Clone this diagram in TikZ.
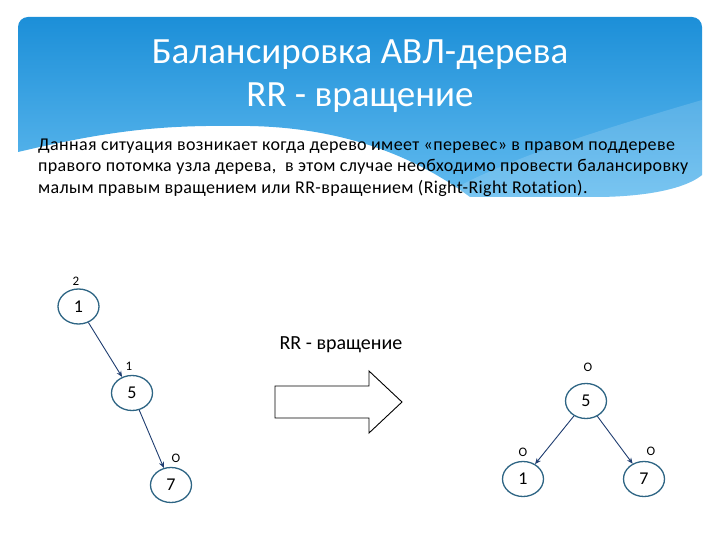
\documentclass[tikz,border=0pt]{standalone}
\usepackage{fontspec}
\setmainfont{Carlito}
\usetikzlibrary{shapes.geometric,arrows.meta}
\definecolor{topblue}{HTML}{1C8FD8}
\definecolor{lowblue}{HTML}{62BBEF}
\definecolor{ringc}{HTML}{2E6584}
\definecolor{edgec}{HTML}{1F3D70}
\tikzset{
  tnode/.style={ellipse, draw=ringc, line width=1.3pt, fill=white, minimum width=41pt, minimum height=35pt, inner sep=0pt, font=\fontsize{18}{18}\selectfont},
  blab/.style={font=\fontsize{13}{13}\selectfont, inner sep=0pt},
  tedge/.style={draw=edgec, line width=0.9pt, -{Stealth[length=6pt,width=5pt]}},
  bodyline/.style={anchor=west, inner sep=0pt, font=\fontsize{18}{18}\selectfont\addfontfeature{LetterSpace=2,Ligatures=NoCommon}}
}
\begin{document}
\begin{tikzpicture}[x=1pt,y=-1pt]
\useasboundingbox (0,0) rectangle (720,540);
% header background
\shade[top color=topblue, bottom color=lowblue]
  (18,152) [rounded corners=10] -- (18,17) -- (702,17) [sharp corners] -- (702,175)
  .. controls (690,185) and (660,196) .. (600,197)
  -- (470,197) .. controls (420,160) and (350,128) .. (250,126)
  .. controls (170,125) and (120,128) .. (18,152) -- cycle;
\fill[white, opacity=0.15] (702,100) .. controls (600,130) and (500,160) .. (440,197) -- (600,197) .. controls (660,196) and (690,185) .. (702,175) -- cycle;
% title
\node[text=white, font=\fontsize{37}{37}\selectfont] (t1) at (360,55) {Балансировка АВЛ-дерева};
\node[text=white, font=\fontsize{37}{37}\selectfont] (t2) at (360,98) {RR - вращение};
% body
\node[bodyline] (b1) at (38,146) {Данная ситуация возникает когда дерево имеет «перевес» в правом поддереве};
\node[bodyline] (b2) at (38,167) {правого потомка узла дерева,\ \ в этом случае необходимо провести балансировку};
\node[bodyline] (b3) at (38,188) {малым правым вращением или RR-вращением (Right-Right Rotation).};
% left tree
\node[tnode] (l1) at (78.5,306.5) {1};
\node[tnode] (l5) at (132,393) {5};
\node[tnode] (l7) at (171,485) {7};
\node[blab] (ll1) at (76,281) {2};
\node[blab] (ll5) at (129,366) {1};
\node[blab] (ll7) at (176,458) {O};
\draw[tedge] (l1) -- (l5);
\draw[tedge] (l5) -- (l7);
% block arrow
\node[font=\fontsize{20}{20}\selectfont] (rr) at (341,345) {RR - вращение};
\draw[black, line width=0.9pt, fill=white] (275,386) -- (369,386) -- (369,371) -- (402,402) -- (369,433) -- (369,418) -- (275,418) -- cycle;
% right tree
\node[tnode] (r5) at (586,401) {5};
\node[tnode] (r1) at (523,479) {1};
\node[tnode] (r7) at (644,479) {7};
\node[blab] (lr5) at (588,367) {O};
\node[blab] (lr1) at (523,452) {O};
\node[blab] (lr7) at (651,451) {O};
\draw[tedge] (r5) -- (r1);
\draw[tedge] (r5) -- (r7);
\end{tikzpicture}
\end{document}
